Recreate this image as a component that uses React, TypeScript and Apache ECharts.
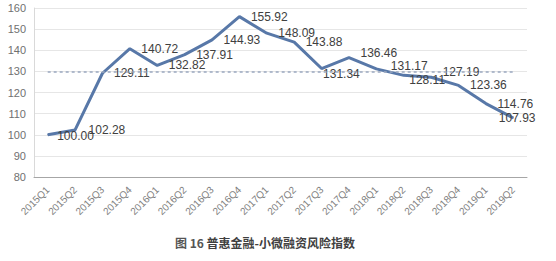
import React, { useEffect, useRef } from "react";
import * as echarts from "echarts";

const CATEGORIES = [
  "2015Q1", "2015Q2", "2015Q3", "2015Q4",
  "2016Q1", "2016Q2", "2016Q3", "2016Q4",
  "2017Q1", "2017Q2", "2017Q3", "2017Q4",
  "2018Q1", "2018Q2", "2018Q3", "2018Q4",
  "2019Q1", "2019Q2",
];
const RISK_INDEX = [
  100.0, 102.28, 129.11, 140.72, 132.82, 137.91, 144.93, 155.92, 148.09,
  143.88, 131.34, 136.46, 131.17, 128.11, 127.19, 123.36, 114.76, 107.93,
];
const REFERENCE_LEVEL = 130;
const Y_MIN = 80;
const Y_MAX = 160;
const Y_INTERVAL = 10;
const TITLE_PREFIX = "图 16 ";
const TITLE_MAIN = "普惠金融-小微融资风险指数";

// label nudges [dx, dy] in pixels (styling only)
const LABEL_NUDGES: Record<number, [number, number]> = {
  0: [-2, 1],
  1: [2, 0],
  10: [-10, 5],
  11: [0, -5],
  12: [3, -3],
  13: [-6, 5],
  14: [0, -5],
  17: [-26, 0],
};

export default function App() {
  const ref = useRef<HTMLDivElement>(null);
  useEffect(() => {
    if (!ref.current) return;
    const chart = echarts.init(ref.current, null, { renderer: "svg" });
    const font = "'Liberation Sans', Arial, sans-serif";
    chart.setOption({
      animation: false,
      backgroundColor: "#ffffff",
      title: {
        text: `{a|${TITLE_PREFIX}}{b|${TITLE_MAIN}}`,
        left: 170,
        top: 231,
        textStyle: {
          rich: {
            a: { fontSize: 12, color: "#555555", fontFamily: "'Noto Sans CJK SC', sans-serif" },
            b: { fontSize: 12, color: "#404040", fontWeight: "bold", fontFamily: "'Noto Sans CJK SC', sans-serif" },
          },
        },
      },
      grid: { left: 34, right: 29, top: 8, bottom: 84, containLabel: false },
      xAxis: {
        type: "category",
        data: CATEGORIES,
        boundaryGap: true,
        axisLine: { lineStyle: { color: "#a6a6a6", width: 1 } },
        axisTick: { show: false },
        axisLabel: {
          rotate: 45,
          fontSize: 10,
          color: "#7f7f7f",
          margin: 11,
          interval: 0,
          fontFamily: font,
        },
      },
      yAxis: {
        type: "value",
        min: Y_MIN,
        max: Y_MAX,
        interval: Y_INTERVAL,
        axisLine: { show: true, lineStyle: { color: "#d9d9d9" } },
        axisTick: { show: false },
        splitLine: { lineStyle: { color: "#e6e6e6" } },
        axisLabel: { fontSize: 11, color: "#707070", margin: 8, fontFamily: font },
      },
      series: [
        {
          type: "line",
          data: RISK_INDEX.map((v, i) => ({
            value: v,
            label: LABEL_NUDGES[i] ? { offset: LABEL_NUDGES[i] } : undefined,
          })),
          symbol: "circle",
          symbolSize: 1,
          itemStyle: { color: "#5878a8" },
          lineStyle: { color: "#5878a8", width: 3 },
          label: {
            show: true,
            position: "right",
            distance: 11,
            fontSize: 12,
            color: "#404040",
            fontFamily: font,
            formatter: (p: any) => Number(p.value).toFixed(2),
          },
          markLine: {
            silent: true,
            symbol: "none",
            label: { show: false },
            lineStyle: { color: "#9aa8c0", type: [3, 3], width: 1.5 },
            data: [
              [
                { coord: [0, REFERENCE_LEVEL] },
                { coord: [CATEGORIES.length - 1, REFERENCE_LEVEL] },
              ],
            ],
          },
        },
      ],
    });
    return () => chart.dispose();
  }, []);
  return (
    <div
      ref={ref}
      style={{ position: "fixed", left: 0, top: 0, width: 556, height: 261 }}
    />
  );
}
